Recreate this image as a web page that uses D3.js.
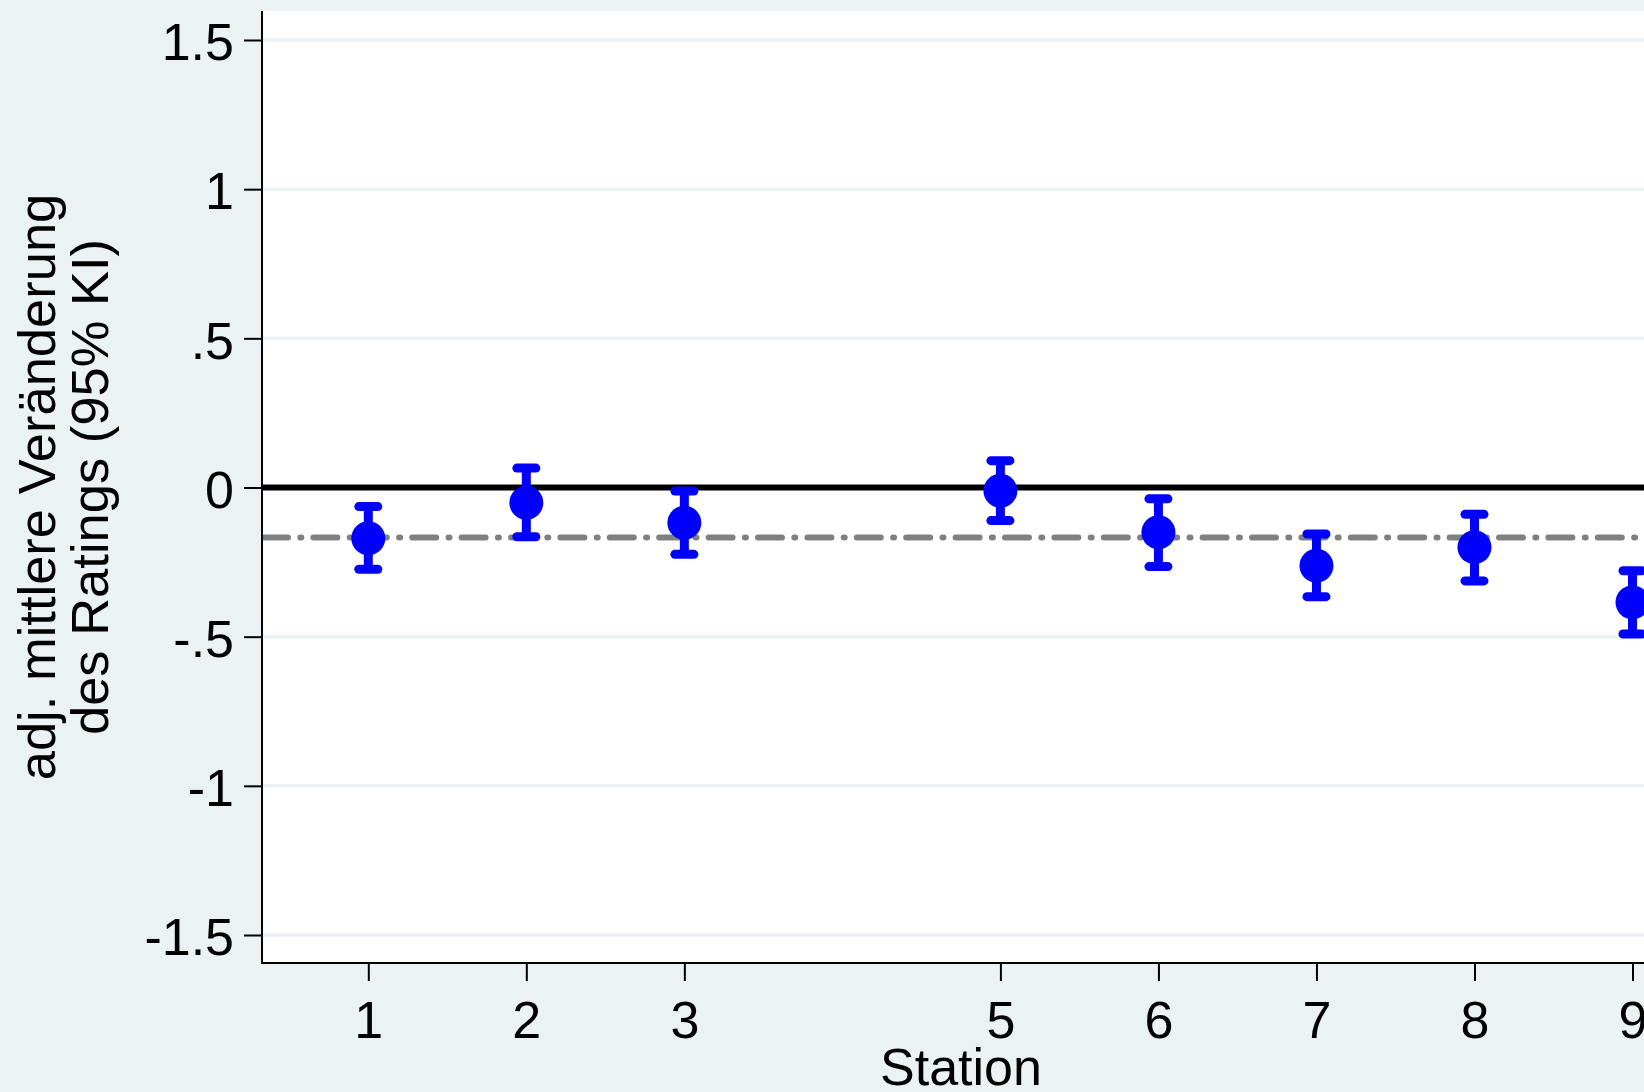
<!DOCTYPE html>
<html>
<head>
<meta charset="utf-8">
<script src="https://cdn.jsdelivr.net/npm/d3@7"></script>
<style>
  html, body { margin: 0; padding: 0; background: #eaf2f3; overflow: hidden; }
  svg { display: block; }
  text { font-family: "Liberation Sans", Arial, sans-serif; }
</style>
</head>
<body>
<svg id="chart" width="1644" height="1092"></svg>
<script>
// ---- data ----
const stations = [1, 2, 3, 5, 6, 7, 8, 9];
const means    = [-0.170, -0.051, -0.118, -0.011, -0.150, -0.262, -0.200, -0.385];
const lower    = [-0.274, -0.165, -0.224, -0.111, -0.265, -0.366, -0.313, -0.491];
const upper    = [-0.064,  0.065, -0.012,  0.090, -0.038, -0.156, -0.090, -0.279];
const refLine  = -0.168;
const yTicks      = [1.5, 1, 0.5, 0, -0.5, -1, -1.5];
const yTickLabels = ["1.5", "1", ".5", "0", "-.5", "-1", "-1.5"];
const xTicks      = [1, 2, 3, 5, 6, 7, 8, 9];
const xTickLabels = ["1", "2", "3", "5", "6", "7", "8", "9"];
const yTitle = ["adj. mittlere Veränderung", "des Ratings (95% KI)"];
const xTitle = "Station";

// ---- layout ----
const plot = { left: 262, top: 11, bottom: 963, right: 1740 };
const svg = d3.select("#chart");

const x = d3.scaleLinear().domain([1, 9]).range([368.3, 1632.5]);
const y = d3.scaleLinear().domain([-1.5, 1.5]).range([935, 40]);

// plot region
svg.append("rect")
  .attr("x", plot.left).attr("y", plot.top)
  .attr("width", plot.right - plot.left).attr("height", plot.bottom - plot.top)
  .attr("fill", "#ffffff");

// gridlines
svg.append("g").selectAll("line").data(yTicks).join("line")
  .attr("x1", plot.left).attr("x2", plot.right)
  .attr("y1", d => y(d)).attr("y2", d => y(d))
  .attr("stroke", "#eaf2f3").attr("stroke-width", 3.5);

// zero line
svg.append("line")
  .attr("x1", plot.left).attr("x2", plot.right)
  .attr("y1", y(0)).attr("y2", y(0))
  .attr("stroke", "#000").attr("stroke-width", 6);

// reference dash-dot line
svg.append("line")
  .attr("x1", plot.left + 2).attr("x2", plot.right)
  .attr("y1", y(refLine)).attr("y2", y(refLine))
  .attr("stroke", "#808080").attr("stroke-width", 6)
  .attr("stroke-linecap", "round")
  .attr("stroke-dasharray", "24,12.3,1,12.1");

const pts = stations.map((s, i) => ({ s, m: means[i], lo: lower[i], hi: upper[i] }));
const blue = "#0000ff";
const capHalf = 9.5;

const eb = svg.append("g");
eb.selectAll("line.v").data(pts).join("line").attr("class", "v")
  .attr("x1", d => x(d.s)).attr("x2", d => x(d.s))
  .attr("y1", d => y(d.lo)).attr("y2", d => y(d.hi))
  .attr("stroke", blue).attr("stroke-width", 9);
eb.selectAll("line.cl").data(pts).join("line").attr("class", "cl")
  .attr("x1", d => x(d.s) - capHalf).attr("x2", d => x(d.s) + capHalf)
  .attr("y1", d => y(d.lo)).attr("y2", d => y(d.lo))
  .attr("stroke", blue).attr("stroke-width", 9).attr("stroke-linecap", "round");
eb.selectAll("line.ch").data(pts).join("line").attr("class", "ch")
  .attr("x1", d => x(d.s) - capHalf).attr("x2", d => x(d.s) + capHalf)
  .attr("y1", d => y(d.hi)).attr("y2", d => y(d.hi))
  .attr("stroke", blue).attr("stroke-width", 9).attr("stroke-linecap", "round");

svg.append("g").selectAll("circle").data(pts).join("circle")
  .attr("cx", d => x(d.s)).attr("cy", d => y(d.m)).attr("r", 17)
  .attr("fill", blue);

// axes
const yAxis = d3.axisLeft(y).tickValues(yTicks)
  .tickFormat((d, i) => yTickLabels[i]).tickSize(18).tickPadding(10).tickSizeOuter(0);
const gy = svg.append("g").attr("transform", `translate(${plot.left},0)`).call(yAxis);
gy.select(".domain").remove();
gy.selectAll(".tick line").attr("stroke", "#000").attr("stroke-width", 2);
gy.selectAll(".tick text").attr("font-size", 52).attr("fill", "#000")
  .attr("font-family", "Liberation Sans, Arial, sans-serif").attr("dy", "0.38em");

const xAxis = d3.axisBottom(x).tickValues(xTicks)
  .tickFormat((d, i) => xTickLabels[i]).tickSize(18).tickPadding(20).tickSizeOuter(0);
const gx = svg.append("g").attr("transform", `translate(0,${plot.bottom})`).call(xAxis);
gx.select(".domain").remove();
gx.selectAll(".tick line").attr("stroke", "#000").attr("stroke-width", 2);
gx.selectAll(".tick text").attr("font-size", 52).attr("fill", "#000")
  .attr("font-family", "Liberation Sans, Arial, sans-serif");

// axis lines
svg.append("line").attr("x1", plot.left).attr("x2", plot.left)
  .attr("y1", plot.top).attr("y2", plot.bottom + 1)
  .attr("stroke", "#000").attr("stroke-width", 2);
svg.append("line").attr("x1", plot.left - 1).attr("x2", plot.right)
  .attr("y1", plot.bottom).attr("y2", plot.bottom)
  .attr("stroke", "#000").attr("stroke-width", 2);

// titles
const midY = (plot.top + plot.bottom) / 2;
[55, 108].forEach((bx, i) => {
  svg.append("text")
    .attr("transform", `translate(${bx},${midY}) rotate(-90)`)
    .attr("text-anchor", "middle").attr("font-size", 52.5).attr("fill", "#000")
    .text(yTitle[i]);
});
svg.append("text").attr("x", 961).attr("y", 1085)
  .attr("text-anchor", "middle").attr("font-size", 52).attr("fill", "#000")
  .text(xTitle);
</script>
</body>
</html>
